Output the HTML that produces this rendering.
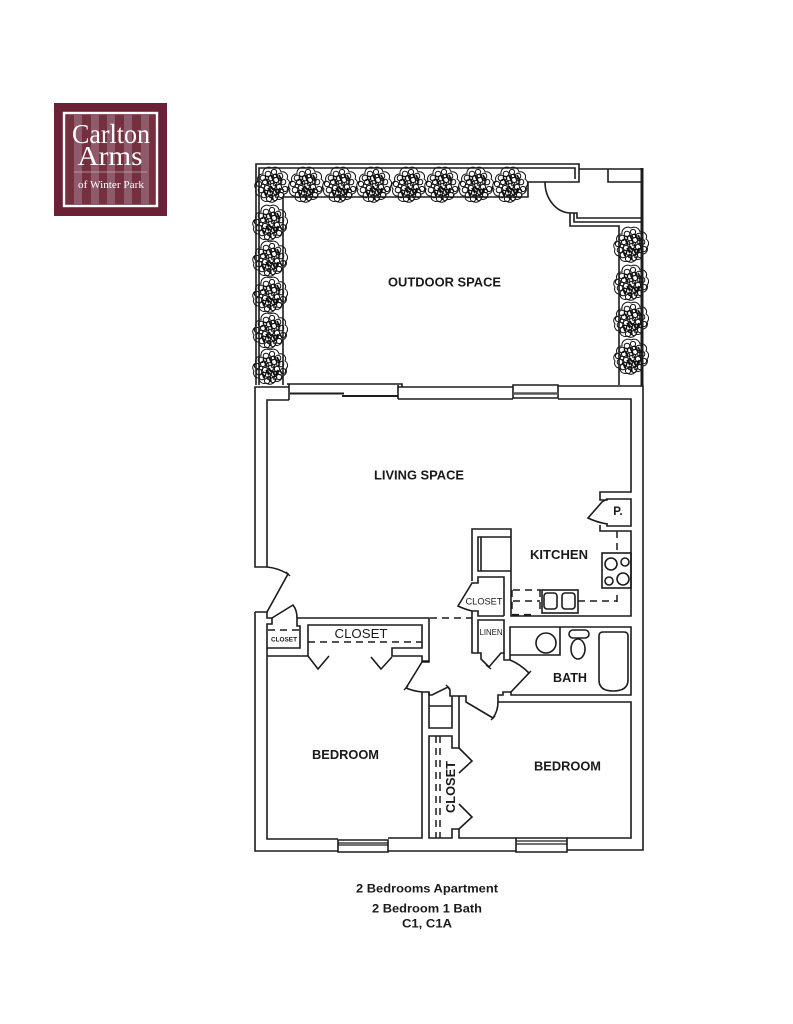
<!DOCTYPE html>
<html><head><meta charset="utf-8"><style>
html,body{margin:0;padding:0;background:#fff}
svg{display:block}
text{font-family:"Liberation Sans",sans-serif;fill:#1a1a1a}
.w{fill:none;stroke:#1c1c1c;stroke-width:1.6;stroke-linejoin:miter}
.d{fill:none;stroke:#1c1c1c;stroke-width:1.5;stroke-dasharray:7 5}
.b{font-weight:bold;text-anchor:middle}
</style></head><body>
<svg width="793" height="1024" viewBox="0 0 793 1024" xmlns="http://www.w3.org/2000/svg">
<defs>
<g id="t" fill="none" stroke="#111" stroke-width="1">
<path d="M-14 -4a5 5 0 0 1 5-7a6 6 0 0 1 9-6a6 6 0 0 1 9 4a5 5 0 0 1 6 7a5 5 0 0 1 1 8a5 5 0 0 1-4 7a5 5 0 0 1-7 5a6 6 0 0 1-9 2a5 5 0 0 1-7-5a5 5 0 0 1-5-7a5 5 0 0 1 2-8z" fill="#fff"/>
<circle cx="-9" cy="-7" r="2.8"/><circle cx="-4" cy="-11" r="2.8"/><circle cx="2" cy="-13" r="2.6"/><circle cx="8" cy="-9" r="2.8"/>
<circle cx="-13" cy="-1" r="2.6"/><circle cx="-7" cy="-3" r="2.6"/><circle cx="-1" cy="-7" r="2.8"/><circle cx="4" cy="-5" r="2.6"/><circle cx="11" cy="-3" r="2.8"/>
<circle cx="-11" cy="5" r="2.8"/><circle cx="-5" cy="3" r="2.6"/><circle cx="1" cy="1" r="2.8"/><circle cx="7" cy="2" r="2.6"/><circle cx="13" cy="4" r="2.6"/>
<circle cx="-8" cy="10" r="2.8"/><circle cx="-2" cy="8" r="2.6"/><circle cx="4" cy="7" r="2.8"/><circle cx="9" cy="10" r="2.6"/>
<circle cx="-3" cy="14" r="2.6"/><circle cx="3" cy="13" r="2.6"/>
<circle cx="-3" cy="-2" r="1.8"/><circle cx="3" cy="-9" r="1.8"/><circle cx="-6" cy="7" r="1.8"/><circle cx="6" cy="6" r="1.8"/><circle cx="0" cy="5" r="1.8"/><circle cx="8" cy="-3" r="1.8"/><circle cx="-9" cy="1" r="1.8"/><circle cx="-5" cy="-7" r="1.8"/><circle cx="3" cy="-1" r="1.8"/><circle cx="10" cy="6" r="1.8"/><circle cx="-1" cy="11" r="1.8"/><circle cx="5" cy="11" r="1.8"/>
<path d="M-1 -10L2 -3M4 -11L7 -5M-4 3L-1 8M2 3L5 9M0 10L1 15M7 -10L10 -4M-6 -6L-3 -1M-8 5L-6 11M8 3L6 8M-1 1L1 5" stroke-width="1.8"/>
</g>
</defs>

<!-- logo -->
<rect x="54" y="103" width="113" height="113" fill="#6a2136"/>
<rect x="64" y="113" width="93" height="93" fill="#74303f" stroke="#fff" stroke-width="2.4"/>
<g fill="#8f5a69">
<rect x="74" y="114" width="8" height="91"/><rect x="91" y="114" width="8" height="91"/><rect x="107" y="114" width="8" height="91"/><rect x="124" y="114" width="8" height="91"/><rect x="141" y="114" width="8" height="91"/>
</g>
<text x="111" y="143" text-anchor="middle" textLength="78" lengthAdjust="spacingAndGlyphs" style="font-family:'Liberation Serif',serif;font-size:27px;fill:#fff">Carlton</text>
<text x="110" y="165" text-anchor="middle" textLength="65" lengthAdjust="spacingAndGlyphs" style="font-family:'Liberation Serif',serif;font-size:27px;fill:#fff">Arms</text>
<line x1="74" y1="172" x2="147" y2="172" stroke="#c9a9b3" stroke-width="0.8"/>
<text x="111" y="188" text-anchor="middle" textLength="66" lengthAdjust="spacingAndGlyphs" style="font-family:'Liberation Serif',serif;font-size:10.5px;fill:#fff">of Winter Park</text>

<!-- outdoor trees -->
<use href="#t" x="272" y="185"/><use href="#t" x="306" y="185"/><use href="#t" x="340" y="185"/><use href="#t" x="374" y="185"/><use href="#t" x="409" y="185"/><use href="#t" x="442" y="185"/><use href="#t" x="476" y="185"/><use href="#t" x="510" y="185"/>
<use href="#t" x="270" y="223"/><use href="#t" x="270" y="259"/><use href="#t" x="270" y="295"/><use href="#t" x="270" y="331"/><use href="#t" x="270" y="367"/>
<use href="#t" x="631" y="245"/><use href="#t" x="631" y="283"/><use href="#t" x="631" y="320"/><use href="#t" x="631" y="357"/>

<!-- outdoor walls -->
<g class="w">
<path d="M256 385V164H579V182H528V197H283V385"/>
<path d="M259 385V168H575V179"/>
<path d="M579 169H643"/>
<path d="M608 169V182H641"/>
<path d="M545 182A26 31 0 0 0 570 213H577V218H643"/>
<path d="M574 213V222H643"/>
<path d="M570 213V226H619V385"/>
<path d="M642 168V386" stroke-width="3"/>
</g>

<!-- apartment shell -->
<g class="w">
<path d="M289 387H255V567H267V400H289"/>
<path d="M287 384H402V387"/>
<path d="M289 384V400M398 385V399"/>
<path d="M290 393.500H344M342 396H398" stroke-width="2"/>
<path d="M398 387H513M398 399H513"/>
<path d="M513 385H558V398H513ZM513 385V398"/>
<path d="M513 393.500H558" stroke="#555" stroke-width="2.600"/>
<path d="M558 386H643V850H567"/>
<path d="M558 399H631V492H600V500H607V499H631V526H607V523M600 525V531H631V616H511V529H472V581"/>
<path d="M607 499L602 502L588 518Q596 522 607 524"/>
<!-- fridge -->
<path d="M511 537H478V571H511M481 537V571"/>
<!-- kitchen closet -->
<path d="M504 616V577H478V583H472L458 606Q464 609 472 611H478V616H504"/>
<path d="M472 611V653H481V659L489 667L501 653H504V620H478V653"/>
<path d="M504 653V660H510V627H631V695H511V692L529 673Q520 664 510 660"/>
<path d="M511 692H503V695H498V702H631V838H567"/>
<path d="M498 702Q498 711 493 718L466 702V696H450V690L448 687L432 695H429V692H422V838H388"/>
<path d="M422 692Q413 691 406 688L422 662H429V618H297V626H300V648H267V624H272V618H267V612H255"/>
<path d="M272 618L293 605Q297 610 297 618"/>
<path d="M267 567Q278 568 288 574L267 612"/>
<path d="M308 656V625H422V648H392V656H422V661H429"/>
<path d="M267 648V656H308M267 656V839H338"/>
<path d="M308 656L318 669L329 656M371 657L381 669L392 657"/>
<!-- lower walls -->
<path d="M429 692V728H452V696M429 706H452"/>
<path d="M459 696V748H452V736H429V838H452V829H459V838H516"/>
<path d="M459 748L472 761L459 773M459 804L472 817L459 829"/>
<path d="M255 612V851H338M388 851H516"/>
<path d="M338 840H388V852H338ZM516 838H567V852H516Z"/>
<path d="M338 843H388M516 841H567M516 844H567" stroke-width="1.2"/>
<path d="M338 845H388" stroke-width="1.2"/>
<!-- bath fixtures -->
<path d="M510 655H560V627"/>
<circle cx="546" cy="643" r="10"/>
<rect x="569" y="630" width="20" height="8" rx="4"/>
<ellipse cx="578" cy="649" rx="7" ry="10"/>
<path d="M603 632H624Q628 632 628 636V680Q628 691 613 691Q599 691 599 680V636Q599 632 603 632Z"/>
<!-- kitchen fixtures -->
<rect x="602" y="553" width="29" height="35"/>
<circle cx="611" cy="564" r="6"/><circle cx="625" cy="562" r="4"/><circle cx="609" cy="581" r="4"/><circle cx="623" cy="579" r="6"/>
<rect x="542" y="590" width="36" height="23"/>
<rect x="544" y="593" width="13" height="16" rx="3"/><rect x="562" y="593" width="13" height="16" rx="3"/>
</g>
<!-- door ticks -->
<g stroke="#1c1c1c" stroke-width="1.4">
<path d="M286 572L290 576M404 690L408 686M486 665L491 669M527 675L531 671M491 720L495 716M446 685L450 689"/>
</g>
<!-- dashed -->
<g class="d">
<path d="M617 531V553M617 595V603"/>
<path d="M513 601H540M578 601H617"/>
<path d="M513 590H541"/>
<path d="M512 590V612M540 590V612"/>
<path d="M512 615H536" stroke-width="2.2"/>
<path d="M430 618H472"/>
<path d="M268 630H300"/>
<path d="M308 642H422"/>
<path d="M436 736V838M440 736V838"/>
</g>

<!-- labels -->
<text class="b" x="444.500" y="286.500" font-size="12.500" textLength="113" lengthAdjust="spacingAndGlyphs">OUTDOOR SPACE</text>
<text class="b" x="419" y="479.500" font-size="12.500" textLength="90" lengthAdjust="spacingAndGlyphs">LIVING SPACE</text>
<text class="b" x="559" y="559" font-size="12.500" textLength="58" lengthAdjust="spacingAndGlyphs">KITCHEN</text>
<text class="b" x="618" y="515" font-size="11.500">P.</text>
<text class="b" x="484" y="604.500" font-size="9" textLength="37" lengthAdjust="spacingAndGlyphs" style="font-weight:normal">CLOSET</text>
<text class="b" x="491" y="635" font-size="8.500" textLength="23" lengthAdjust="spacingAndGlyphs" style="font-weight:normal">LINEN</text>
<text class="b" x="570" y="682" font-size="13" textLength="34" lengthAdjust="spacingAndGlyphs">BATH</text>
<text class="b" x="361" y="638" font-size="13" textLength="53" lengthAdjust="spacingAndGlyphs" style="font-weight:normal">CLOSET</text>
<text class="b" x="284" y="641.500" font-size="6.500" textLength="26" lengthAdjust="spacingAndGlyphs">CLOSET</text>
<text class="b" x="345.500" y="759" font-size="12.500" textLength="67" lengthAdjust="spacingAndGlyphs">BEDROOM</text>
<text class="b" x="567.500" y="770.500" font-size="12.500" textLength="67" lengthAdjust="spacingAndGlyphs">BEDROOM</text>
<text class="b" transform="translate(455,787) rotate(-90)" x="0" y="0" font-size="13" textLength="52" lengthAdjust="spacingAndGlyphs">CLOSET</text>
<text class="b" x="427" y="892.500" font-size="11.500" textLength="142" lengthAdjust="spacingAndGlyphs">2 Bedrooms Apartment</text>
<text class="b" x="427" y="912.500" font-size="11.500" textLength="110" lengthAdjust="spacingAndGlyphs">2 Bedroom 1 Bath</text>
<text class="b" x="427" y="927.500" font-size="11.500" textLength="50" lengthAdjust="spacingAndGlyphs">C1, C1A</text>
</svg>
</body></html>
